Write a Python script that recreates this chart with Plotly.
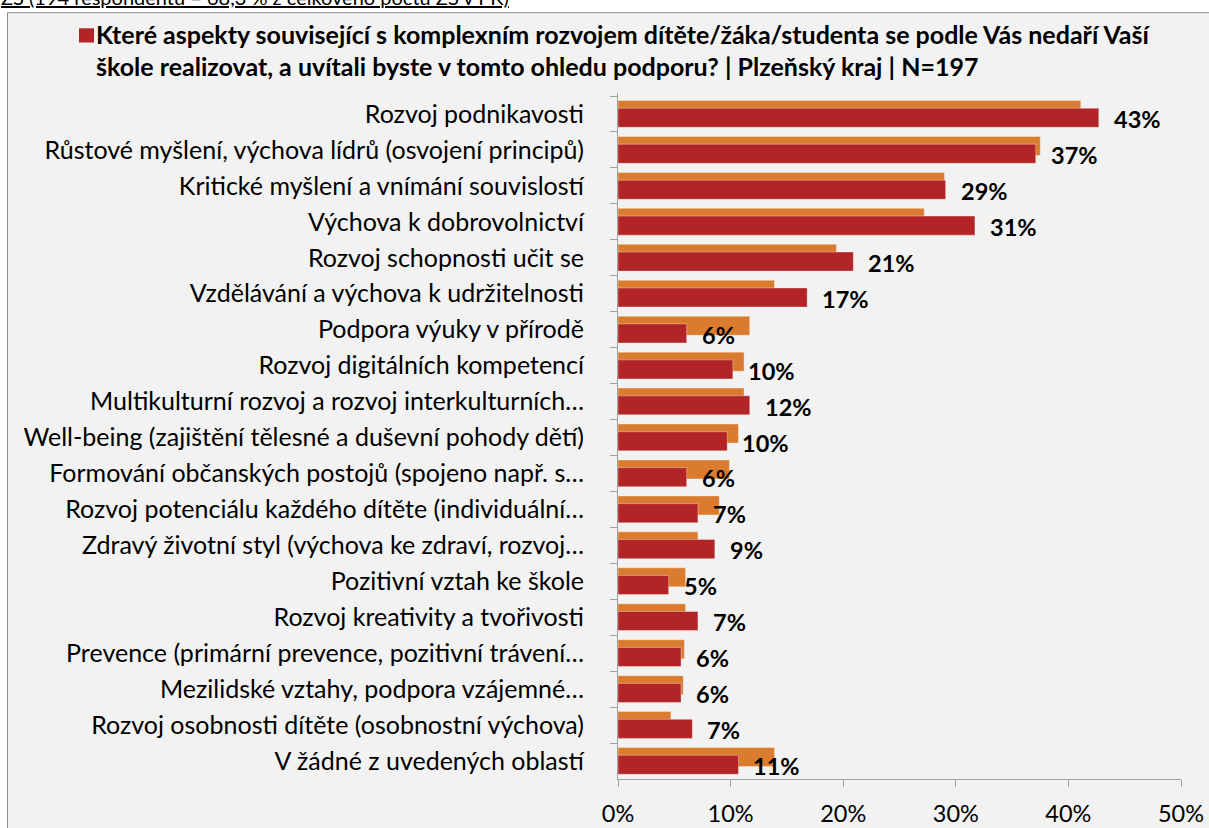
import plotly.graph_objects as go

categories = [
    "Rozvoj podnikavosti",
    "Růstové myšlení, výchova lídrů (osvojení principů)",
    "Kritické myšlení a vnímání souvislostí",
    "Výchova k dobrovolnictví",
    "Rozvoj schopnosti učit se",
    "Vzdělávání a výchova k udržitelnosti",
    "Podpora výuky v přírodě",
    "Rozvoj digitálních kompetencí",
    "Multikulturní rozvoj a rozvoj interkulturních…",
    "Well-being (zajištění tělesné a duševní pohody dětí)",
    "Formování občanských postojů (spojeno např. s…",
    "Rozvoj potenciálu každého dítěte (individuální…",
    "Zdravý životní styl (výchova ke zdraví, rozvoj…",
    "Pozitivní vztah ke škole",
    "Rozvoj kreativity a tvořivosti",
    "Prevence (primární prevence, pozitivní trávení…",
    "Mezilidské vztahy, podpora vzájemné…",
    "Rozvoj osobnosti dítěte (osobnostní výchova)",
    "V žádné z uvedených oblastí",
]
plzen_values = [42.7, 37.1, 29.1, 31.7, 20.9, 16.8, 6.1, 10.2, 11.7, 9.7, 6.1, 7.1, 8.6, 4.5, 7.1, 5.6, 5.6, 6.6, 10.7]
other_values = [41.1, 37.5, 29.0, 27.2, 19.4, 13.9, 11.7, 11.2, 11.2, 10.7, 9.9, 9.0, 7.1, 6.0, 6.0, 5.9, 5.8, 4.7, 13.9]
value_labels = ["43%", "37%", "29%", "31%", "21%", "17%", "6%", "10%", "12%", "10%", "6%", "7%", "9%", "5%", "7%", "6%", "6%", "7%", "11%"]
x_ticks = [0, 10, 20, 30, 40, 50]
x_tick_labels = ["0%", "10%", "20%", "30%", "40%", "50%"]

title_line1 = "Které aspekty související s komplexním rozvojem dítěte/žáka/studenta se podle Vás nedaří Vaší"
title_line2 = "škole realizovat, a uvítali byste v tomto ohledu podporu? | Plzeňský kraj | N=197"
top_note = "ZŠ (194 respondentů = 68,3 % z celkového počtu ZŠ v PK)"

W, H = 1209, 828
ML, MR, MT, MB = 618, 28, 93, 49
PW, PH = W - ML - MR, H - MT - MB

def px(x):
    return (x - ML) / PW

def py(y):
    return (H - MB - y) / PH

FONT = "Lato"
RED = "#b22426"
ORANGE = "#d97c2f"

fig = go.Figure()
fig.add_trace(go.Bar(
    y=categories, x=other_values, orientation="h",
    marker=dict(color=ORANGE, line=dict(color="rgba(255,255,255,0.35)", width=1)),
    width=0.53, offset=-0.375, showlegend=False, hoverinfo="skip",
))
fig.add_trace(go.Bar(
    y=categories, x=plzen_values, orientation="h",
    marker=dict(color=RED, line=dict(color="rgba(255,255,255,0.35)", width=1)),
    width=0.53, offset=-0.16, showlegend=False, hoverinfo="skip",
))

annotations = []
for cat, v, lab in zip(categories, plzen_values, value_labels):
    annotations.append(dict(
        x=v, y=cat, xref="x", yref="y", text="<b>" + lab + "</b>",
        showarrow=False, xanchor="left", yanchor="middle", xshift=13, yshift=-5,
        font=dict(family=FONT, size=23.5, color="#000000"),
    ))

annotations.append(dict(
    x=px(94), y=py(34), xref="paper", yref="paper", text="<b>" + title_line1 + "</b>",
    showarrow=False, xanchor="left", yanchor="middle",
    font=dict(family=FONT, size=25, color="#000000"),
))
annotations.append(dict(
    x=px(94), y=py(66), xref="paper", yref="paper", text="<b>" + title_line2 + "</b>",
    showarrow=False, xanchor="left", yanchor="middle",
    font=dict(family=FONT, size=25, color="#000000"),
))
annotations.append(dict(
    x=px(-1), y=py(-3), xref="paper", yref="paper", text="<u>" + top_note + "</u>",
    showarrow=False, xanchor="left", yanchor="middle",
    font=dict(family=FONT, size=20, color="#000000"),
))

shapes = [
    dict(type="rect", xref="paper", yref="paper", layer="below",
         x0=px(7.5), x1=px(1230), y0=py(900), y1=py(12.7),
         fillcolor="#f2f2f2", line=dict(color="#8c8c8c", width=1)),
    dict(type="rect", xref="paper", yref="paper",
         x0=px(79), x1=px(94), y0=py(42.5), y1=py(28.3),
         fillcolor=RED, line=dict(width=0)),
]

fig.update_layout(
    width=W, height=H,
    margin=dict(l=ML, r=MR, t=MT, b=MB, pad=0, autoexpand=False),
    paper_bgcolor="white", plot_bgcolor="rgba(0,0,0,0)",
    barmode="overlay",
    font=dict(family=FONT, size=20, color="#000000"),
    annotations=annotations, shapes=shapes,
    xaxis=dict(
        range=[0, 50], tickvals=x_ticks, ticktext=x_tick_labels, automargin=False,
        showgrid=False, zeroline=False, showline=True, linecolor="#a0a0a0", linewidth=1,
        ticks="outside", ticklen=7, tickcolor="#a0a0a0", ticklabelstandoff=7,
        tickfont=dict(family=FONT, size=23.5, color="#000000"), fixedrange=True,
    ),
    yaxis=dict(
        type="category", autorange="reversed", automargin=False,
        showgrid=False, zeroline=False, showline=True, linecolor="#a0a0a0", linewidth=1,
        ticks="outside", ticklen=7, tickcolor="#a0a0a0", tickson="boundaries",
        ticklabelstandoff=28,
        tickfont=dict(family=FONT, size=25, color="#000000"), fixedrange=True,
    ),
)

fig.write_html(
    "out.html",
    config={"displayModeBar": False},
    post_script="document.body.style.margin='0px';document.body.style.overflow='hidden';",
)
